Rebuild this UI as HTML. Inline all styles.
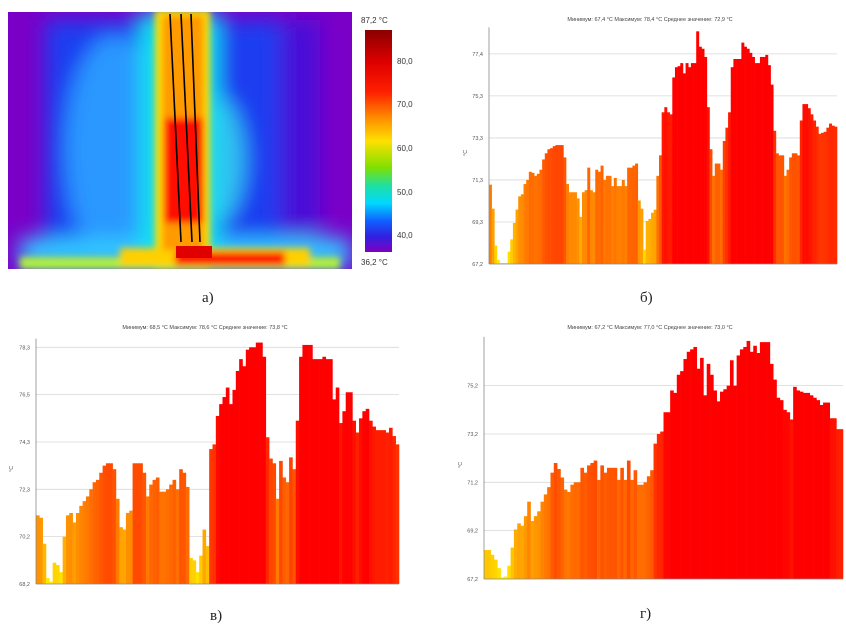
<!DOCTYPE html>
<html><head><meta charset="utf-8"><style>
body{margin:0;background:#fff;width:846px;height:626px;overflow:hidden;font-family:"Liberation Sans",sans-serif}
svg{position:absolute;left:0;top:0}
</style></head><body>
<svg width="846" height="626" viewBox="0 0 846 626">
<defs>
<filter id="bl" x="-20%" y="-20%" width="140%" height="140%"><feGaussianBlur stdDeviation="10"/></filter>
<filter id="bl2" x="-20%" y="-20%" width="140%" height="140%"><feGaussianBlur stdDeviation="3.5"/></filter>
<clipPath id="imgclip"><rect x="8" y="12" width="344" height="257"/></clipPath>
<linearGradient id="cbar" x1="0" y1="0" x2="0" y2="1">
<stop offset="0" stop-color="#8b0000"/><stop offset="0.15" stop-color="#e00000"/><stop offset="0.28" stop-color="#ff2000"/>
<stop offset="0.4" stop-color="#ff9000"/><stop offset="0.5" stop-color="#ffe000"/><stop offset="0.62" stop-color="#7fe000"/>
<stop offset="0.7" stop-color="#20e0a0"/><stop offset="0.78" stop-color="#00d8ff"/><stop offset="0.86" stop-color="#1060ff"/>
<stop offset="0.93" stop-color="#3020e0"/><stop offset="1" stop-color="#8000c0"/></linearGradient>
</defs>
<g clip-path="url(#imgclip)">
<rect x="8" y="12" width="344" height="257" fill="#7a00c8"/>
<g filter="url(#bl)">
<rect x="45" y="20" width="265" height="250" fill="#1a3cf0"/>
<rect x="280" y="20" width="40" height="240" fill="#4a10d8"/>
<ellipse cx="115" cy="150" rx="50" ry="115" fill="#2c98ff"/>
<ellipse cx="215" cy="160" rx="30" ry="65" fill="#30c0f0"/>
<rect x="20" y="238" width="330" height="30" fill="#30c8ff"/>
<rect x="140" y="12" width="78" height="257" fill="#10e0f0"/>
</g>
<g filter="url(#bl2)">
<rect x="155" y="10" width="55" height="260" fill="#ffe000"/>
<rect x="20" y="257" width="320" height="12" fill="#b0f040"/>
<rect x="120" y="248" width="190" height="18" fill="#ffd000"/>
<rect x="162" y="15" width="42" height="235" fill="#ff9a00"/>
<rect x="164" y="118" width="40" height="105" fill="#ff1000"/>
<rect x="175" y="252" width="110" height="14" fill="#ff1000"/>
</g>
<rect x="176" y="246" width="36" height="12" fill="#e00000"/>
<line x1="170" y1="14" x2="181" y2="242" stroke="#000" stroke-width="1.6"/>
<line x1="181" y1="14" x2="192" y2="242" stroke="#000" stroke-width="1.6"/>
<line x1="191" y1="14" x2="200" y2="242" stroke="#000" stroke-width="1.6"/>
</g>
<rect x="365" y="30" width="27" height="222" fill="url(#cbar)"/>
<g font-size="8" fill="#333">
<text x="361" y="23">87,2 °C</text><text x="361" y="265">36,2 °C</text>
<text x="397" y="64">80,0</text><text x="397" y="107">70,0</text><text x="397" y="151">60,0</text>
<text x="397" y="195">50,0</text><text x="397" y="238">40,0</text>
</g>
<g font-family="Liberation Serif,serif" font-size="15" fill="#222">
<text x="202" y="302">а)</text>
<text x="640" y="302">б)</text>
<text x="210" y="620">в)</text>
<text x="640" y="618">г)</text>
</g>
<g id="charts"></g>
</svg>
<script>
const bVals=[71.07,69.9,68.1,67.4,67.25,67.25,67.25,67.8,68.4,69.2,69.85,70.5,70.6,71.1,71.3,71.7,71.65,71.5,71.6,71.8,72.3,72.6,72.8,72.85,72.95,73.0,73.0,73.0,72.4,71.1,70.7,70.7,70.7,70.4,69.5,70.7,70.8,71.9,70.8,70.7,71.8,71.7,72.0,71.3,71.5,71.5,71.0,71.4,71.0,71.0,71.3,71.0,71.9,71.9,72.0,72.1,70.3,69.9,67.9,69.3,69.4,69.7,69.85,71.5,72.5,74.6,74.85,74.6,74.5,76.3,76.8,76.85,77.0,76.5,77.0,76.8,77.0,77.0,78.55,77.8,77.7,77.3,74.85,72.8,71.5,72.1,72.1,71.8,73.2,73.85,74.6,76.8,77.2,77.2,77.2,78.0,77.8,77.7,77.5,77.3,77.0,77.0,77.3,77.3,77.4,76.9,75.95,73.7,72.6,72.5,72.5,71.5,71.8,72.4,72.6,72.6,72.5,74.2,75.0,75.0,74.8,74.5,74.2,73.9,73.55,73.6,73.65,73.85,74.05,73.95,73.9];
const bTicks=["67,2","69,3","71,3","73,3","75,3","77,4"];
const bTickVals=[67.2,69.25,71.3,73.35,75.4,77.45];
const cVals=[71.1,71.0,69.9,68.45,68.3,69.1,69.0,68.7,70.2,71.1,71.2,70.8,71.2,71.5,71.7,71.9,72.2,72.5,72.6,72.9,73.2,73.3,73.3,73.05,71.8,70.6,70.5,71.2,71.3,73.3,73.3,73.3,72.9,71.9,72.4,72.6,72.7,72.1,72.1,72.2,72.4,72.6,72.2,73.05,72.9,72.3,69.3,69.2,68.7,69.4,70.5,69.8,73.9,74.1,75.3,75.8,76.1,76.5,75.8,76.4,77.2,77.7,77.4,78.1,78.2,78.2,78.4,78.4,77.8,74.4,73.5,73.3,71.8,73.4,72.7,72.5,73.55,73.05,75.1,77.8,78.3,78.3,78.3,77.7,77.7,77.7,77.8,77.7,77.7,76.0,76.5,75.0,75.5,76.3,76.3,75.1,74.6,75.2,75.5,75.6,75.1,74.85,74.7,74.7,74.7,74.6,74.8,74.45,74.1];
const cTicks=["68,2","70,2","72,3","74,3","76,5","78,3"];
const cTickVals=[68.2,70.2,72.2,74.2,76.2,78.2];
const dVals=[68.4,68.4,68.2,68.0,67.65,67.27,67.3,67.75,68.5,69.25,69.5,69.4,69.8,70.4,69.6,69.8,70.0,70.4,70.7,71.0,71.6,72.0,71.75,71.4,70.9,70.8,71.1,71.2,71.2,71.8,71.6,71.9,72.0,72.1,71.3,71.9,71.6,71.8,71.8,71.8,71.3,71.8,71.3,72.1,71.3,71.7,71.1,71.1,71.2,71.45,71.7,72.8,73.2,73.3,74.1,74.1,75.0,74.9,75.65,75.8,76.3,76.6,76.7,76.8,75.9,76.35,74.8,76.1,75.65,75.0,74.55,74.95,75.05,75.2,76.25,75.2,76.45,76.7,76.8,77.05,76.6,76.85,76.55,77.0,77.0,77.0,76.1,75.45,74.7,74.6,74.2,74.1,73.8,75.15,75.0,74.95,74.9,74.9,74.8,74.7,74.6,74.4,74.5,74.5,73.85,73.85,73.4,73.4];
const dTicks=["67,2","69,2","71,2","73,2","75,2"];
const dTickVals=[67.2,69.2,71.2,73.2,75.2];
const NS="http://www.w3.org/2000/svg";
const root=document.getElementById('charts');
function mk(tag,attrs,parent){const e=document.createElementNS(NS,tag);for(const k in attrs)e.setAttribute(k,attrs[k]);parent.appendChild(e);return e;}
function color(v,mn,mx){let t=(v-mn)/(mx-mn);let h=56*(1-t/0.72);if(h<0)h=0;return `hsl(${h},100%,50%)`;}
function chart(name,vals,ticks,tickVals,x0,x1,yb,ymin,pxPerUnit,title,titleX,titleY,unitX,unitY){
 const g=mk('g',{},root);
 
 
 const ys=v=>yb-(v-ymin)*pxPerUnit;
 tickVals.forEach((tv,i)=>{
  if(i>0){const gl=mk('line',{x1:x0,x2:x1,y1:ys(tv),y2:ys(tv),stroke:'#d8d8d8','stroke-width':0.8},g);
  
  }
  const t=mk('text',{x:x0-6,y:ys(tv)+2,'font-size':5.5,fill:'#555','text-anchor':'end'},g);t.textContent=ticks[i];
  
  
 });
 const mn=Math.min(...vals),mx=Math.max(...vals);
 const w=(x1-x0)/vals.length;
 vals.forEach((v,i)=>{
  const r=mk('rect',{x:x0+i*w,y:ys(v),width:w+0.3,height:yb-ys(v),fill:color(v,mn,mx)},g);
  
  
 });
 mk('line',{x1:x0,x2:x0,y1:yb,y2:yb-(mx-ymin)*pxPerUnit-4,stroke:'#888','stroke-width':0.8},g);
 mk('line',{x1:x0,x2:x1,y1:yb,y2:yb,stroke:'#888','stroke-width':0.8},g);
 const tt=mk('text',{x:titleX,y:titleY,'font-size':5.5,fill:'#444','text-anchor':'middle'},g);tt.textContent=title;
 
 
 const u=mk('text',{x:unitX,y:unitY,'font-size':5.5,fill:'#555',transform:`rotate(-90 ${unitX} ${unitY})`},g);u.textContent='°C';
 
 
}
chart('chart-b',bVals,bTicks,bTickVals,489,837,264,67.2,20.5,'Минимум: 67,4 °C Максимум: 78,4 °C Среднее значение: 72,9 °C',650,21,467,156);
chart('chart-c',cVals,cTicks,cTickVals,36,399,584,68.2,23.67,'Минимум: 68,5 °C Максимум: 78,6 °C Среднее значение: 73,8 °C',205,329,13,472);
chart('chart-d',dVals,dTicks,dTickVals,484,843,579,67.2,24.17,'Минимум: 67,2 °C Максимум: 77,0 °C Среднее значение: 73,0 °C',650,329,462,468);
</script>
</body></html>
